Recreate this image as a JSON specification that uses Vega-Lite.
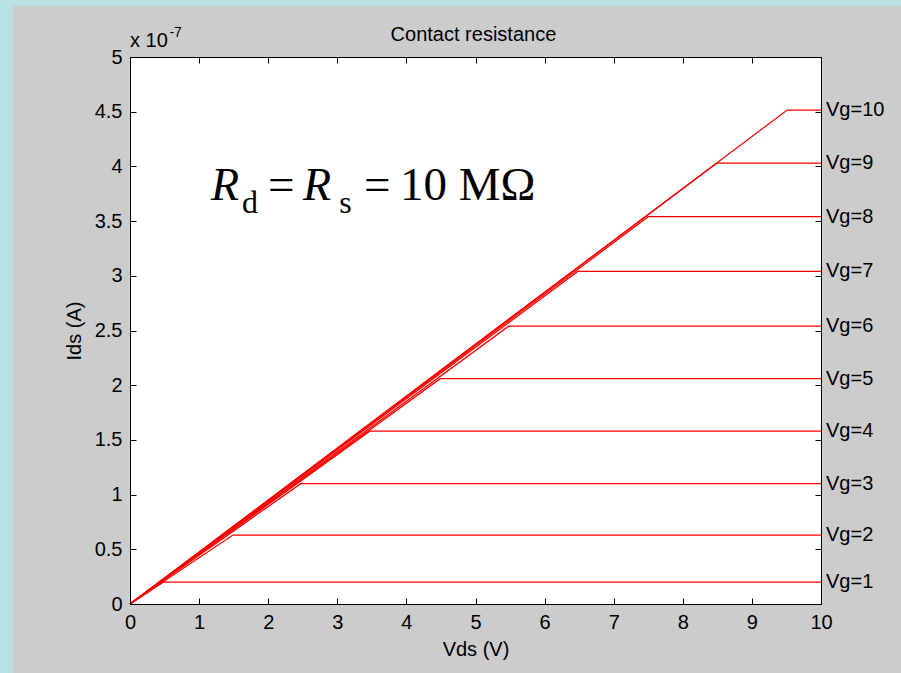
{
  "$schema": "https://vega.github.io/schema/vega-lite/v6.json",
  "width": 691,
  "height": 547,
  "autosize": {"type": "none"},
  "padding": {"left": 130, "top": 57, "right": 80, "bottom": 69},
  "background": "#b9e0e3",
  "config": {
    "view": {"stroke": null},
    "axis": {"labelFont": "Liberation Sans", "labelFontSize": 20, "labelColor": "#000", "titleFont": "Liberation Sans", "titleFontSize": 20, "titleFontWeight": "normal", "titleColor": "#000", "domainColor": "#000", "tickColor": "#000", "grid": false, "labelFlush": false}
  },
  "datasets": {
    "curves": [
      {"Vg": 1, "Vds": 0, "Ids": 0}, {"Vg": 1, "Vds": 0.48, "Ids": 0.2}, {"Vg": 1, "Vds": 10, "Ids": 0.2},
      {"Vg": 2, "Vds": 0, "Ids": 0}, {"Vg": 2, "Vds": 1.49, "Ids": 0.63}, {"Vg": 2, "Vds": 10, "Ids": 0.63},
      {"Vg": 3, "Vds": 0, "Ids": 0}, {"Vg": 3, "Vds": 2.47, "Ids": 1.1}, {"Vg": 3, "Vds": 10, "Ids": 1.1},
      {"Vg": 4, "Vds": 0, "Ids": 0}, {"Vg": 4, "Vds": 3.47, "Ids": 1.58}, {"Vg": 4, "Vds": 10, "Ids": 1.58},
      {"Vg": 5, "Vds": 0, "Ids": 0}, {"Vg": 5, "Vds": 4.49, "Ids": 2.06}, {"Vg": 5, "Vds": 10, "Ids": 2.06},
      {"Vg": 6, "Vds": 0, "Ids": 0}, {"Vg": 6, "Vds": 5.48, "Ids": 2.54}, {"Vg": 6, "Vds": 10, "Ids": 2.54},
      {"Vg": 7, "Vds": 0, "Ids": 0}, {"Vg": 7, "Vds": 6.48, "Ids": 3.04}, {"Vg": 7, "Vds": 10, "Ids": 3.04},
      {"Vg": 8, "Vds": 0, "Ids": 0}, {"Vg": 8, "Vds": 7.5, "Ids": 3.54}, {"Vg": 8, "Vds": 10, "Ids": 3.54},
      {"Vg": 9, "Vds": 0, "Ids": 0}, {"Vg": 9, "Vds": 8.49, "Ids": 4.03}, {"Vg": 9, "Vds": 10, "Ids": 4.03},
      {"Vg": 10, "Vds": 0, "Ids": 0}, {"Vg": 10, "Vds": 9.51, "Ids": 4.515}, {"Vg": 10, "Vds": 10, "Ids": 4.515}
    ],
    "labels": [
      {"Vds": 10, "Ids": 0.2, "label": "Vg=1"},
      {"Vds": 10, "Ids": 0.63, "label": "Vg=2"},
      {"Vds": 10, "Ids": 1.1, "label": "Vg=3"},
      {"Vds": 10, "Ids": 1.58, "label": "Vg=4"},
      {"Vds": 10, "Ids": 2.06, "label": "Vg=5"},
      {"Vds": 10, "Ids": 2.54, "label": "Vg=6"},
      {"Vds": 10, "Ids": 3.04, "label": "Vg=7"},
      {"Vds": 10, "Ids": 3.54, "label": "Vg=8"},
      {"Vds": 10, "Ids": 4.03, "label": "Vg=9"},
      {"Vds": 10, "Ids": 4.515, "label": "Vg=10"}
    ],
    "italic": [
      {"Vds": 1.172, "Ids": 3.693, "t": "R"},
      {"Vds": 2.504, "Ids": 3.693, "t": "R"}
    ],
    "subs": [
      {"Vds": 1.62, "Ids": 3.574, "t": "d"},
      {"Vds": 3.03, "Ids": 3.574, "t": "s"}
    ],
    "plain": [
      {"Vds": 1.997, "Ids": 3.693, "t": "="},
      {"Vds": 3.386, "Ids": 3.693, "t": "="},
      {"Vds": 3.907, "Ids": 3.693, "t": "10 MΩ"}
    ],
    "mult": [
      {"Vds": 0, "Ids": 5.09, "t": "x 10"}
    ],
    "sup": [
      {"Vds": 0.57, "Ids": 5.18, "t": "-7"}
    ],
    "heading": [
      {"Vds": 4.97, "Ids": 5.146, "t": "Contact resistance"}
    ]
  },
  "resolve": {"axis": {"x": "independent", "y": "independent"}},
  "layer": [
    {
      "data": {"values": [{}]},
      "mark": {"type": "rect", "color": "#cccccc", "zindex": -2},
      "encoding": {
        "x": {"datum": -1.693, "type": "quantitative", "scale": {"domain": [0, 10], "nice": false, "zero": false}, "axis": null},
        "x2": {"datum": 11.2},
        "y": {"datum": -0.64, "type": "quantitative", "scale": {"domain": [0, 5], "nice": false, "zero": false}, "axis": null},
        "y2": {"datum": 5.466}
      }
    },
    {
      "data": {"values": [{}]},
      "mark": {"type": "rect", "color": "#ffffff", "zindex": -1},
      "encoding": {
        "x": {"datum": 0, "type": "quantitative", "scale": {"domain": [0, 10], "nice": false, "zero": false}, "axis": {"orient": "top", "values": [0,1,2,3,4,5,6,7,8,9,10], "labels": false, "tickSize": -6, "title": null, "zindex": 1}},
        "x2": {"datum": 10},
        "y": {"datum": 0, "type": "quantitative", "scale": {"domain": [0, 5], "nice": false, "zero": false}, "axis": {"orient": "right", "values": [0,0.5,1,1.5,2,2.5,3,3.5,4,4.5,5], "labels": false, "tickSize": -6, "title": null, "zindex": 1}},
        "y2": {"datum": 5}
      }
    },
    {
      "data": {"name": "curves"},
      "mark": {"type": "line", "color": "#ff0000", "strokeWidth": 1.3},
      "encoding": {
        "x": {"field": "Vds", "type": "quantitative", "scale": {"domain": [0, 10], "nice": false, "zero": false}, "axis": {"orient": "bottom", "values": [0,1,2,3,4,5,6,7,8,9,10], "tickSize": -6, "labelPadding": 14, "title": "Vds (V)", "titlePadding": 7, "zindex": 1}},
        "y": {"field": "Ids", "type": "quantitative", "scale": {"domain": [0, 5], "nice": false, "zero": false}, "axis": {"orient": "left", "values": [0,0.5,1,1.5,2,2.5,3,3.5,4,4.5,5], "format": "~g", "tickSize": -6, "labelPadding": 14, "title": "Ids (A)", "titlePadding": 10, "zindex": 1}},
        "detail": {"field": "Vg"},
        "order": {"field": "Vds"}
      }
    },
    {
      "data": {"name": "labels"},
      "mark": {"type": "text", "align": "left", "baseline": "middle", "dx": 5, "font": "Liberation Sans", "fontSize": 20, "color": "#000"},
      "encoding": {
        "x": {"field": "Vds", "type": "quantitative"},
        "y": {"field": "Ids", "type": "quantitative"},
        "text": {"field": "label"}
      }
    },
    {
      "data": {"name": "heading"},
      "mark": {"type": "text", "align": "center", "baseline": "alphabetic", "font": "Liberation Sans", "fontSize": 20, "color": "#000"},
      "encoding": {
        "x": {"field": "Vds", "type": "quantitative"},
        "y": {"field": "Ids", "type": "quantitative"},
        "text": {"field": "t"}
      }
    },
    {
      "data": {"name": "italic"},
      "mark": {"type": "text", "align": "left", "baseline": "alphabetic", "font": "Liberation Serif", "fontStyle": "italic", "fontSize": 46, "color": "#000"},
      "encoding": {
        "x": {"field": "Vds", "type": "quantitative"},
        "y": {"field": "Ids", "type": "quantitative"},
        "text": {"field": "t"}
      }
    },
    {
      "data": {"name": "subs"},
      "mark": {"type": "text", "align": "left", "baseline": "alphabetic", "font": "Liberation Serif", "fontSize": 32, "color": "#000"},
      "encoding": {
        "x": {"field": "Vds", "type": "quantitative"},
        "y": {"field": "Ids", "type": "quantitative"},
        "text": {"field": "t"}
      }
    },
    {
      "data": {"name": "plain"},
      "mark": {"type": "text", "align": "left", "baseline": "alphabetic", "font": "Liberation Serif", "fontSize": 47, "color": "#000"},
      "encoding": {
        "x": {"field": "Vds", "type": "quantitative"},
        "y": {"field": "Ids", "type": "quantitative"},
        "text": {"field": "t"}
      }
    },
    {
      "data": {"name": "mult"},
      "mark": {"type": "text", "align": "left", "baseline": "alphabetic", "font": "Liberation Sans", "fontSize": 20, "color": "#000"},
      "encoding": {
        "x": {"field": "Vds", "type": "quantitative"},
        "y": {"field": "Ids", "type": "quantitative"},
        "text": {"field": "t"}
      }
    },
    {
      "data": {"name": "sup"},
      "mark": {"type": "text", "align": "left", "baseline": "alphabetic", "font": "Liberation Sans", "fontSize": 14, "color": "#000"},
      "encoding": {
        "x": {"field": "Vds", "type": "quantitative"},
        "y": {"field": "Ids", "type": "quantitative"},
        "text": {"field": "t"}
      }
    }
  ]
}
